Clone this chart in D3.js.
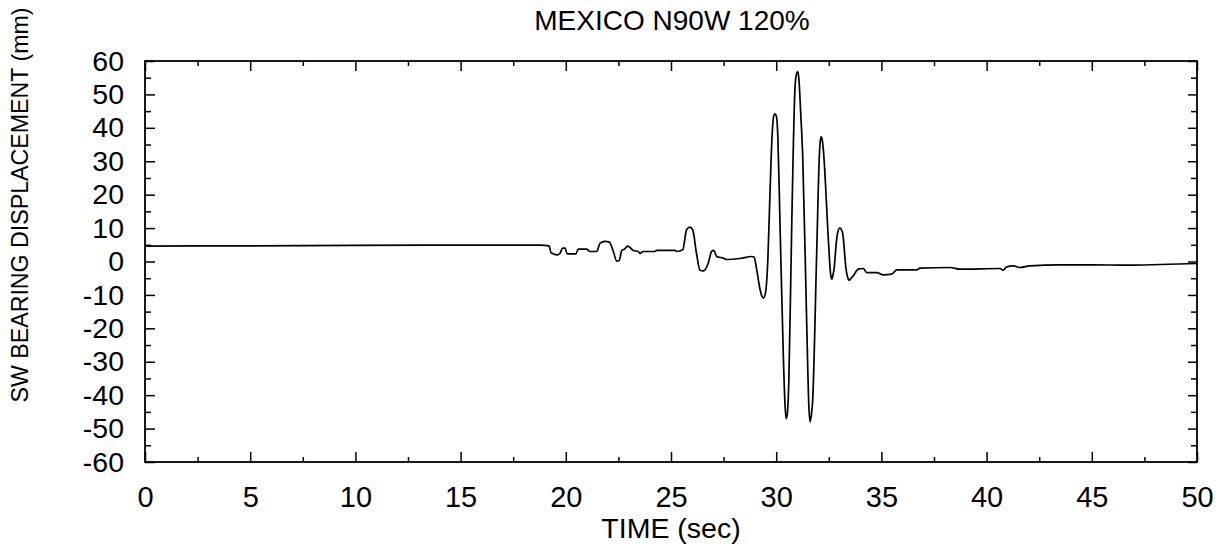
<!DOCTYPE html>
<html>
<head>
<meta charset="utf-8">
<script src="https://cdn.jsdelivr.net/npm/d3@7"></script>
<style>
  html, body { margin: 0; padding: 0; background: #fff; }
  svg { display: block; font-family: "Liberation Sans", Arial, Helvetica, sans-serif; }
</style>
</head>
<body>
<svg id="chart" width="1225" height="550"></svg>
<script>
// ---- data ----
const title = "MEXICO N90W 120%";
const xLabel = "TIME (sec)";
const yLabel = "SW BEARING DISPLACEMENT (mm)";
const xTicks = [0, 5, 10, 15, 20, 25, 30, 35, 40, 45, 50];
const xMinorTicks = [2.5, 7.5, 12.5, 17.5, 22.5, 27.5, 32.5, 37.5, 42.5, 47.5];
const yTicks = [-60, -50, -40, -30, -20, -10, 0, 10, 20, 30, 40, 50, 60];
const yMinorTicks = [-55, -45, -35, -25, -15, -5, 5, 15, 25, 35, 45, 55];
const time = [0, 5, 10, 15, 18.8, 19.2, 19.3, 19.6, 19.72, 19.85, 19.96, 20.07, 20.48, 20.59, 20.99, 21.15, 21.47, 21.63, 21.86, 22.07, 22.26, 22.42, 22.54, 22.66, 22.81, 22.92, 23.05, 23.21, 23.45, 23.53, 23.68, 24.24, 24.32, 25.19, 25.27, 25.56, 25.74, 25.9, 26.03, 26.22, 26.38, 26.54, 26.77, 26.93, 27.04, 27.17, 27.49, 27.65, 28.28, 28.84, 28.95, 29.07, 29.23, 29.33, 29.4, 29.5, 29.6, 29.71, 29.8, 29.88, 29.94, 30.01, 30.08, 30.18, 30.34, 30.42, 30.47, 30.53, 30.6, 30.74, 30.89, 30.96, 31.02, 31.08, 31.16, 31.26, 31.45, 31.55, 31.61, 31.67, 31.73, 31.92, 32.05, 32.1, 32.14, 32.19, 32.24, 32.48, 32.58, 32.64, 32.7, 32.75, 32.87, 32.96, 33.03, 33.1, 33.16, 33.32, 33.42, 33.47, 33.56, 33.66, 33.9, 34.14, 34.3, 34.78, 35.09, 35.49, 35.73, 36.68, 36.83, 38.26, 38.74, 40.64, 40.79, 40.95, 41.27, 41.59, 42.06, 43.49, 45.07, 46.66, 48.24, 50];
const displacement = [4.6, 4.7, 4.8, 4.9, 4.9, 4.7, 2.6, 2.0, 2.4, 4.0, 4.0, 2.3, 2.3, 3.7, 3.7, 3.0, 3.0, 5.5, 6.0, 5.8, 3.0, 0.1, 0.3, 3.3, 3.8, 4.6, 4.2, 3.3, 3.0, 2.4, 3.0, 3.0, 3.3, 3.3, 3.0, 3.5, 9.5, 10.3, 9.5, 2.1, -2.6, -2.8, -0.5, 3.0, 3.3, 1.5, 1.0, 0.6, 0.9, 1.5, 1.3, -2.3, -8.3, -10.5, -10.9, -9.0, 0, 21.5, 37, 43.5, 44.2, 43.5, 37, 11.5, -28.5, -43, -47, -45.5, -36, 11.5, 51.5, 56, 56.8, 54.5, 45, 31.5, -18.5, -43, -48, -46, -42, 1.5, 31.5, 36.3, 37.3, 36.3, 33.5, 6.5, -3.5, -5.3, -4.0, -2.3, 6.5, 9.5, 10.1, 9.5, 8.5, -2.3, -5.2, -5.6, -5.0, -4.3, -2.3, -2.1, -3.3, -3.3, -4.0, -3.8, -2.5, -2.5, -2.0, -1.8, -2.3, -2.1, -2.6, -1.6, -1.3, -1.8, -1.3, -1.0, -1.0, -1.1, -0.9, -0.6];

// ---- layout ----
const svg = d3.select("#chart");
const plotL = 145, plotR = 1197, plotT = 61, plotB = 462;

const x = d3.scaleLinear().domain([0, 50]).range([plotL, plotR]);
const y = d3.scaleLinear().domain([-60, 60]).range([plotB, plotT]);

const fmt = d => String(d);

function styleAxis(g) {
  g.select(".domain").remove();
  g.selectAll(".tick line").attr("stroke", "#000").attr("stroke-width", 1.5);
}

// bottom axis with labels
svg.append("g").attr("transform", `translate(0,${plotB})`)
  .call(d3.axisBottom(x).tickValues(xTicks).tickSizeInner(-10).tickSizeOuter(0).tickPadding(24).tickFormat(fmt))
  .call(styleAxis)
  .call(g => g.selectAll("text").attr("font-size", 29).attr("fill", "#000").attr("font-family", "Liberation Sans, Arial, sans-serif"));
svg.append("g").attr("transform", `translate(0,${plotB})`)
  .call(d3.axisBottom(x).tickValues(xMinorTicks).tickSizeInner(-5).tickSizeOuter(0).tickFormat(""))
  .call(styleAxis);
// top axis
svg.append("g").attr("transform", `translate(0,${plotT})`)
  .call(d3.axisTop(x).tickValues(xTicks).tickSizeInner(-10).tickSizeOuter(0).tickFormat(""))
  .call(styleAxis);
svg.append("g").attr("transform", `translate(0,${plotT})`)
  .call(d3.axisTop(x).tickValues(xMinorTicks).tickSizeInner(-5).tickSizeOuter(0).tickFormat(""))
  .call(styleAxis);
// left axis with labels
svg.append("g").attr("transform", `translate(${plotL},0)`)
  .call(d3.axisLeft(y).tickValues(yTicks).tickSizeInner(-10).tickSizeOuter(0).tickPadding(21).tickFormat(fmt))
  .call(styleAxis)
  .call(g => g.selectAll("text").attr("font-size", 28.5).attr("fill", "#000").attr("font-family", "Liberation Sans, Arial, sans-serif"));
svg.append("g").attr("transform", `translate(${plotL},0)`)
  .call(d3.axisLeft(y).tickValues(yMinorTicks).tickSizeInner(-6).tickSizeOuter(0).tickFormat(""))
  .call(styleAxis);
// right axis
svg.append("g").attr("transform", `translate(${plotR},0)`)
  .call(d3.axisRight(y).tickValues(yTicks).tickSizeInner(-9).tickSizeOuter(0).tickFormat(""))
  .call(styleAxis);
svg.append("g").attr("transform", `translate(${plotR},0)`)
  .call(d3.axisRight(y).tickValues(yMinorTicks).tickSizeInner(-6).tickSizeOuter(0).tickFormat(""))
  .call(styleAxis);

// frame
svg.append("rect")
  .attr("x", plotL).attr("y", plotT)
  .attr("width", plotR - plotL).attr("height", plotB - plotT)
  .attr("fill", "none").attr("stroke", "#000").attr("stroke-width", 1.8);

// data line
const pts = time.map((t, i) => [t, displacement[i]]);
svg.append("path")
  .datum(pts)
  .attr("fill", "none")
  .attr("stroke", "#000")
  .attr("stroke-width", 1.7)
  .attr("stroke-linejoin", "round")
  .attr("d", d3.line().x(d => x(d[0])).y(d => y(d[1])).curve(d3.curveMonotoneX));

// title
svg.append("text")
  .attr("x", 672).attr("y", 30)
  .attr("text-anchor", "middle").attr("font-size", 28).attr("fill", "#000")
  .text(title);

// x label
svg.append("text")
  .attr("x", 671).attr("y", 538)
  .attr("text-anchor", "middle").attr("font-size", 28.5).attr("fill", "#000")
  .text(xLabel);

// y label
svg.append("text")
  .attr("transform", "translate(28,205) rotate(-90)")
  .attr("text-anchor", "middle").attr("font-size", 23.2).attr("fill", "#000")
  .text(yLabel);
</script>
</body>
</html>
